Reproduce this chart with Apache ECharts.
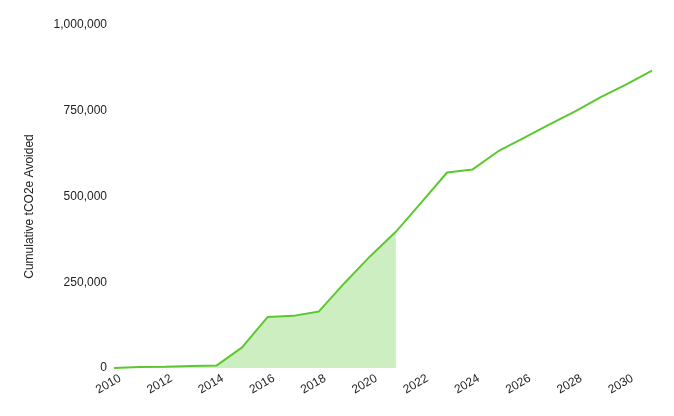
<!DOCTYPE html>
<html>
<head>
<meta charset="utf-8">
<script src="https://cdn.jsdelivr.net/npm/echarts@6/dist/echarts.min.js"></script>
<style>html,body{margin:0;padding:0;background:#fff}#c{width:674px;height:416px}</style>
</head>
<body>
<div id="c"></div>
<script>
var years = ['2010','2011','2012','2013','2014','2015','2016','2017','2018','2019','2020',
             '2021','2022','2023','2024','2025','2026','2027','2028','2029','2030','2031'];
var cumulative = [0, 3000, 4000, 6000, 7000, 60000, 149000, 152000, 165000, 248000, 326000,
                  397000, 483000, 570000, 579000, 632000, 671000, 710000, 748000, 790000, 827000, 867000];
var historicalEndIndex = 11; // 2021
var yTicks = [0, 250000, 500000, 750000, 1000000];

var historical = cumulative.map(function (v, i) { return i <= historicalEndIndex ? v : null; });

var chart = echarts.init(document.getElementById('c'));
chart.setOption({
  animation: false,
  grid: { left: 114, right: 22, top: 25, bottom: 48 },
  xAxis: {
    type: 'category',
    data: years,
    boundaryGap: false,
    axisLine: { show: false },
    axisTick: { show: false },
    axisLabel: {
      interval: 1,
      rotate: 30,
      margin: 13,
      padding: [0, -7, 0, 0],
      color: '#222',
      fontFamily: 'Liberation Sans, Arial, sans-serif',
      fontSize: 12
    },
    splitLine: { show: false }
  },
  yAxis: {
    type: 'value',
    min: yTicks[0],
    max: yTicks[yTicks.length - 1],
    interval: 250000,
    name: 'Cumulative tCO2e Avoided',
    nameLocation: 'middle',
    nameGap: 78,
    nameTextStyle: { color: '#222', fontFamily: 'Liberation Sans, Arial, sans-serif', fontSize: 12, padding: [0, 20, 0, 0] },
    axisLine: { show: false },
    axisTick: { show: false },
    splitLine: { show: false },
    axisLabel: {
      margin: 7,
      color: '#222',
      fontFamily: 'Liberation Sans, Arial, sans-serif',
      fontSize: 12,
      formatter: function (v) { return v.toLocaleString('en-US'); }
    }
  },
  series: [
    {
      type: 'line',
      data: historical,
      symbol: 'none',
      lineStyle: { width: 0 },
      areaStyle: { color: '#cdeec1', opacity: 1 },
      z: 1
    },
    {
      type: 'line',
      data: cumulative,
      symbol: 'none',
      lineStyle: { width: 2, color: '#5bc92e' },
      itemStyle: { color: '#5bc92e' },
      z: 2
    }
  ]
});
</script>
</body>
</html>
